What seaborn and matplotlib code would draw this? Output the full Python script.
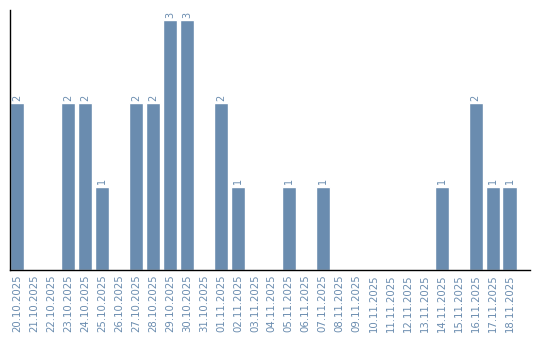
import matplotlib
matplotlib.use("Agg")
import matplotlib.pyplot as plt
import seaborn as sns
import pandas as pd

dates = ["20.10.2025", "21.10.2025", "22.10.2025", "23.10.2025", "24.10.2025",
         "25.10.2025", "26.10.2025", "27.10.2025", "28.10.2025", "29.10.2025",
         "30.10.2025", "31.10.2025", "01.11.2025", "02.11.2025", "03.11.2025",
         "04.11.2025", "05.11.2025", "06.11.2025", "07.11.2025", "08.11.2025",
         "09.11.2025", "10.11.2025", "11.11.2025", "12.11.2025", "13.11.2025",
         "14.11.2025", "15.11.2025", "16.11.2025", "17.11.2025", "18.11.2025"]
counts = [2, 0, 0, 2, 2, 1, 0, 2, 2, 3, 3, 0, 2, 1, 0, 0, 1, 0, 1, 0,
          0, 0, 0, 0, 0, 1, 0, 2, 1, 1]

df = pd.DataFrame({"date": dates, "count": counts})

sns.set_theme(style="white")
plt.rcParams['font.family'] = ['DejaVu Sans']
color = "#6a8caf"

fig = plt.figure(figsize=(5.4, 3.4), dpi=100)
ax = fig.add_axes([10/540, 70/340, 520/540, 260/340])
sns.barplot(data=df, x="date", y="count", color=color, saturation=1,
            width=0.84, ax=ax, order=dates)

for i, v in enumerate(counts):
    if v > 0:
        ax.text(i, v + 0.03, str(v), rotation=90, ha="center", va="bottom",
                fontsize=7, color=color)

ax.set_xlim(-0.42, 30.2)
ax.set_ylim(0, 3.12)
ax.set_xlabel("")
ax.set_ylabel("")
ax.set_yticks([])
ax.tick_params(axis="x", rotation=90, labelsize=7.3, labelcolor=color,
               length=0, pad=3)
for s in ["top", "right"]:
    ax.spines[s].set_visible(False)
for s in ["left", "bottom"]:
    ax.spines[s].set_color("black")
    ax.spines[s].set_linewidth(1)

fig.savefig("out.png", dpi=100)
